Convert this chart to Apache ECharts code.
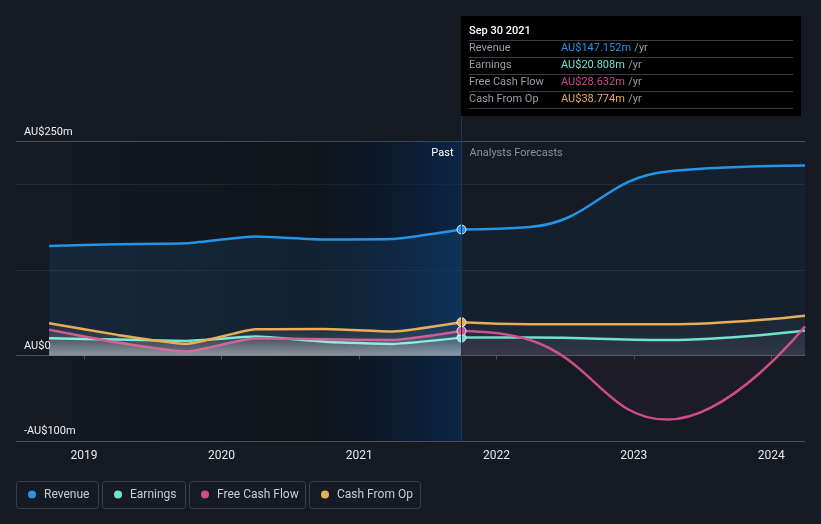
<!DOCTYPE html>
<html>
<head>
<meta charset="utf-8">
<script src="https://cdn.jsdelivr.net/npm/echarts@6/dist/echarts.min.js"></script>
<style>
html,body{margin:0;padding:0;background:#151a23;}
#c{width:821px;height:524px;}
</style>
</head>
<body>
<div id="c"></div>
<script>
// ---- data ----
const pastDates = ['2018-09-30','2019-03-31','2019-09-30','2020-03-31','2020-09-30','2021-03-31','2021-09-30'];
const revenuePast  = [128, 130, 131, 139, 135.5, 136, 147.152];
const earningsPast = [20, 18.5, 17, 22, 16, 13.5, 20.808];
const fcfPast      = [30, 15, 4.5, 20, 19, 18, 28.632];
const cfoPast      = [37.5, 24, 13.5, 30.5, 31, 28, 38.774];

const fcDates = ['2021-09-30','2022-03-31','2023-03-31','2024-03-31'];
const revenueFc  = [147.152, 150, 215, 222];
const earningsFc = [20.808, 21, 18, 29];
const fcfFc      = [28.632, 18, -75, 34];
const cfoFc      = [38.774, 36.5, 36.5, 46.5];

const seriesNames = ['Revenue','Earnings','Free Cash Flow','Cash From Op'];
const seriesColors = ['#2394e6','#6ee6cf','#cc4c8a','#e9ad58'];
const tooltipTitle = 'Sep 30 2021';
const tooltipValues = ['AU$147.152m','AU$20.808m','AU$28.632m','AU$38.774m'];
const yLabels = {'250':'AU$250m','0':'AU$0','-100':'-AU$100m'};
const xMin = '2018-07-04', xMax = '2024-03-31';
const highlightStart = '2020-09-30', pastEnd = '2021-09-30';

const chart = echarts.init(document.getElementById('c'), null, {renderer:'canvas'});
const FONT = 'Roboto, "Noto Sans", sans-serif';

function zip(d, v, markFirst){
  return d.map((x,i)=>{
    const item = {value:[x, v[i]]};
    if (markFirst && i===0) { item.symbol='circle'; item.symbolSize=9; }
    return item;
  });
}
const pastSets = [revenuePast, earningsPast, fcfPast, cfoPast];
const fcSets = [revenueFc, earningsFc, fcfFc, cfoFc];

const series = [{
  name:'bg', type:'line', data:[], z:0, silent:true,
  markArea:{silent:true, z:0, data:[
    [{xAxis:xMin, itemStyle:{color:{type:'linear',x:0,y:0,x2:1,y2:0,colorStops:[{offset:0,color:'rgba(0,0,0,0)'},{offset:1,color:'rgba(0,0,0,0.25)'}]}}},{xAxis:highlightStart}],
    [{xAxis:highlightStart, itemStyle:{color:{type:'linear',x:0,y:0,x2:1,y2:0,colorStops:[{offset:0,color:'rgba(0,10,20,0.3)'},{offset:1,color:'rgba(5,45,95,0.6)'}]}}},{xAxis:pastEnd}]
  ]}
}];
seriesNames.forEach((n,k)=>{
  const c = seriesColors[k];
  const isRev = k===0;
  const pastArea = isRev ? {color:'rgba(35,148,230,0.17)'} :
    {color:{type:'linear',x:0,y:0,x2:0,y2:1,colorStops:[{offset:0,color:'rgba(255,255,255,0.03)'},{offset:1,color:'rgba(255,255,255,0.3)'}]}};
  const fcArea = isRev ? {color:'rgba(35,148,230,0.08)'} :
    (k===2 ? {color:'rgba(204,76,138,0.075)'} :
    {color:{type:'linear',x:0,y:0,x2:0,y2:1,colorStops:[{offset:0,color:'rgba(120,160,150,0.08)'},{offset:1,color:'rgba(200,170,200,0.12)'}]}});
  series.push({
    name:n, type:'line', z: 2+k, data: zip(pastDates, pastSets[k], false),
    smooth:0.15, symbol:'none', showSymbol:false,
    lineStyle:{color:c, width:2.5}, itemStyle:{color:c}, areaStyle: pastArea
  });
  series.push({
    name:n, type:'line', z: 2+k, data: zip(fcDates, fcSets[k], true),
    smooth:0.45, symbol:'none', showSymbol:true,
    lineStyle:{color:c, width:2.5}, itemStyle:{color:c, borderColor:'#e8eef5', borderWidth:1}, areaStyle: fcArea
  });
});

const option = {
  backgroundColor:'#151a23',
  animation:false,
  grid:{left:16, right:16, top:141.5, bottom:83, containLabel:false},
  xAxis:{
    type:'time', min:xMin, max:xMax,
    minInterval:365*24*3600*1000, maxInterval:366*24*3600*1000,
    axisLine:{lineStyle:{color:'#4a4f57', width:1}},
    axisTick:{show:true, length:4, lineStyle:{color:'#4a4f57'}},
    splitLine:{show:false},
    axisLabel:{color:'#e6e8eb', fontSize:12, fontFamily:FONT, margin:9,
      formatter:(v)=>{const d=new Date(v); return (d.getMonth()===0)? String(d.getFullYear()):'';},
      showMinLabel:false, showMaxLabel:false}
  },
  yAxis:{
    type:'value', min:-100, max:250, interval:100,
    axisLine:{show:false}, axisTick:{show:false},
    splitLine:{show:true, lineStyle:{color:['#4a4f57','#d0d0d0','#262b33','#262b33','#4a4f57'], width:1}},
    axisLabel:{inside:true, margin:8, color:'#eef0f2', fontSize:11, fontFamily:FONT,
      verticalAlign:'bottom', padding:[0,0,4,0],
      formatter:(v)=> yLabels[String(v)] || ''}
  },
  series: series
};
chart.setOption(option);

// ---- overlays: divider, labels, tooltip box, legend ----
const lx = Math.round(chart.convertToPixel({xAxisIndex:0}, pastEnd)) + 0.5;
const gfx = [];
gfx.push({type:'line', z:50, shape:{x1:lx, y1:116, x2:lx, y2:441}, style:{stroke:'#1d3656', lineWidth:1}});
gfx.push({type:'text', z:60, style:{text:'Past', x:lx-8, y:153, align:'right', verticalAlign:'middle', fill:'#ffffff', font:'11px '+FONT}});
gfx.push({type:'text', z:60, style:{text:'Analysts Forecasts', x:lx+8, y:153, align:'left', verticalAlign:'middle', fill:'#8b9099', font:'11px '+FONT}});
// tooltip box
const bx = lx - 0.5, by = 16, bw = 801 - bx, bh = 100;
gfx.push({type:'rect', z:70, shape:{x:bx, y:by, width:bw, height:bh}, style:{fill:'#000000'}});
gfx.push({type:'text', z:71, style:{text:tooltipTitle, x:bx+8, y:31, verticalAlign:'middle', fill:'#ffffff', font:'500 11px '+FONT}});
const rowY = [48.5, 65.5, 82.5, 99.5];
const sepY = [40.5, 57.5, 74.5, 91.5, 108.5];
sepY.forEach(y=>gfx.push({type:'line', z:71, shape:{x1:bx+8, y1:y, x2:bx+bw-8, y2:y}, style:{stroke:'#3a3d42', lineWidth:1}}));
seriesNames.forEach((n,k)=>{
  gfx.push({type:'text', z:72, style:{text:n, x:bx+8, y:rowY[k], verticalAlign:'middle', fill:'#9a9ea5', font:'11px '+FONT}});
  gfx.push({type:'text', z:72, style:{
    text:'{v|'+tooltipValues[k]+'} {u|/yr}', x:bx+100, y:rowY[k], verticalAlign:'middle',
    rich:{v:{fill:seriesColors[k], font:'11px '+FONT}, u:{fill:'#9a9ea5', font:'11px '+FONT}}}});
});
// legend
const legW = [82, 83, 116, 111];
let x0 = 16;
seriesNames.forEach((n,k)=>{
  gfx.push({type:'rect', z:80, shape:{x:x0+0.5, y:481.5, width:legW[k], height:27, r:3}, style:{fill:'transparent', stroke:'#3b4048', lineWidth:1}});
  gfx.push({type:'circle', z:81, shape:{cx:x0+16, cy:494.5, r:4}, style:{fill:seriesColors[k]}});
  gfx.push({type:'text', z:81, style:{text:n, x:x0+28, y:495, verticalAlign:'middle', fill:'#c9cdd3', font:'12px '+FONT}});
  x0 += legW[k] + 4;
});
chart.setOption({graphic:gfx});
</script>
</body>
</html>
